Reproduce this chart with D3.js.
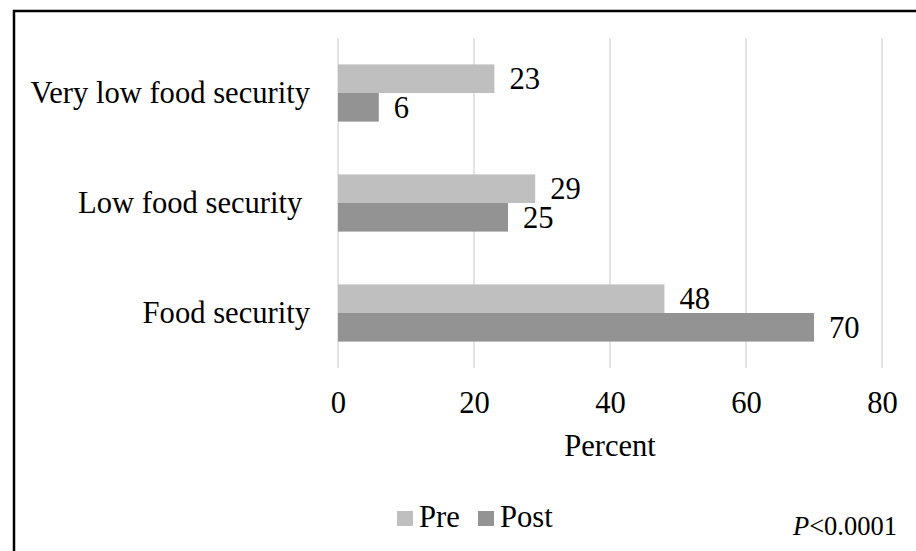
<!DOCTYPE html>
<html>
<head>
<meta charset="utf-8">
<script src="https://cdn.jsdelivr.net/npm/d3@7"></script>
<style>
  html, body { margin: 0; padding: 0; background: #fff; }
  svg { display: block; }
</style>
</head>
<body>
<svg id="chart" width="916" height="551"></svg>
<script>
// Food security status before and after the programme
const categories = ["Very low food security", "Low food security ", "Food security"];
const seriesNames = ["Pre", "Post"];
const preValues = [23, 29, 48];
const postValues = [6, 25, 70];
const xTicks = [0, 20, 40, 60, 80];
const xTitle = "Percent";
const pNote = "<0.0001";

const colors = { Pre: "#bfbfbf", Post: "#939393" };
const FONT = "'Liberation Serif', 'Times New Roman', Times, 'DejaVu Serif', serif";
const FS = 30.6;

const svg = d3.select("#chart")
  .attr("font-family", FONT);
const W = 916, H = 551;

// Small helper so every label gets the same serif face
function label(sel, size) {
  return sel.attr("font-family", FONT)
    .style("font-family", FONT)
    .style("font-size", size + "px")
    .style("white-space", "pre")
    .attr("fill", "#000");
}

// Outer frame
svg.append("rect")
  .attr("x", 14).attr("y", 11)
  .attr("width", W + 10).attr("height", H + 10)
  .attr("fill", "none").attr("stroke", "#000").attr("stroke-width", 2.5);

const plot = { left: 338, right: 882, top: 38, bottom: 368 };

const x = d3.scaleLinear().domain([0, 80]).range([plot.left, plot.right]);
const y = d3.scaleBand().domain(categories).range([plot.top, plot.bottom])
  .paddingInner(0.48).paddingOuter(0.24);
const ySub = d3.scaleBand().domain(seriesNames).range([0, y.bandwidth()]);

// Vertical gridlines
svg.append("g")
  .selectAll("line")
  .data(xTicks)
  .join("line")
  .attr("x1", d => x(d)).attr("x2", d => x(d))
  .attr("y1", plot.top).attr("y2", plot.bottom)
  .attr("stroke", "#d9d9d9").attr("stroke-width", 1.4);

// Bottom axis labels
const xAxis = d3.axisBottom(x).tickValues(xTicks).tickSize(0).tickPadding(0);
const gx = svg.append("g").attr("transform", `translate(0,${plot.bottom})`).call(xAxis);
gx.attr("font-family", FONT).attr("font-size", FS);
gx.select(".domain").remove();
label(gx.selectAll("text").attr("y", 45).attr("dy", null), FS);

// Axis title
label(svg.append("text"), FS)
  .attr("x", (plot.left + plot.right) / 2).attr("y", 456)
  .attr("text-anchor", "middle")
  .text(xTitle);

// Category labels
label(svg.append("g")
  .selectAll("text")
  .data(categories)
  .join("text"), FS)
  .attr("x", 310)
  .attr("y", d => y(d) + y.bandwidth() / 2 + 9.5)
  .attr("text-anchor", "end")
  .text(d => d);

// Bars and value labels
const rows = categories.map((c, i) => ({ cat: c, Pre: preValues[i], Post: postValues[i] }));
const groups = svg.append("g").selectAll("g")
  .data(rows)
  .join("g")
  .attr("transform", d => `translate(0,${y(d.cat)})`);

const cells = groups.selectAll("g")
  .data(d => seriesNames.map(s => ({ s, v: d[s] })))
  .join("g");

cells.append("rect")
  .attr("x", x(0))
  .attr("y", d => ySub(d.s))
  .attr("width", d => x(d.v) - x(0))
  .attr("height", ySub.bandwidth())
  .attr("fill", d => colors[d.s]);

label(cells.append("text"), FS)
  .attr("x", d => x(d.v) + 15)
  .attr("y", d => ySub(d.s) + ySub.bandwidth() / 2 + 10.5)
  .text(d => d.v);

// Legend
const legend = svg.append("g");
const legendItems = [{ s: "Pre", x: 397 }, { s: "Post", x: 478 }];
legendItems.forEach(it => {
  legend.append("rect")
    .attr("x", it.x).attr("y", 511)
    .attr("width", 16).attr("height", 15)
    .attr("fill", colors[it.s]);
  label(legend.append("text"), FS)
    .attr("x", it.x + 22).attr("y", 527)
    .text(it.s);
});

// Significance note
const note = label(svg.append("text"), 26.5)
  .attr("x", 897).attr("y", 535)
  .attr("text-anchor", "end");
note.append("tspan").style("font-style", "italic").text("P");
note.append("tspan").text(pNote);
</script>
</body>
</html>
